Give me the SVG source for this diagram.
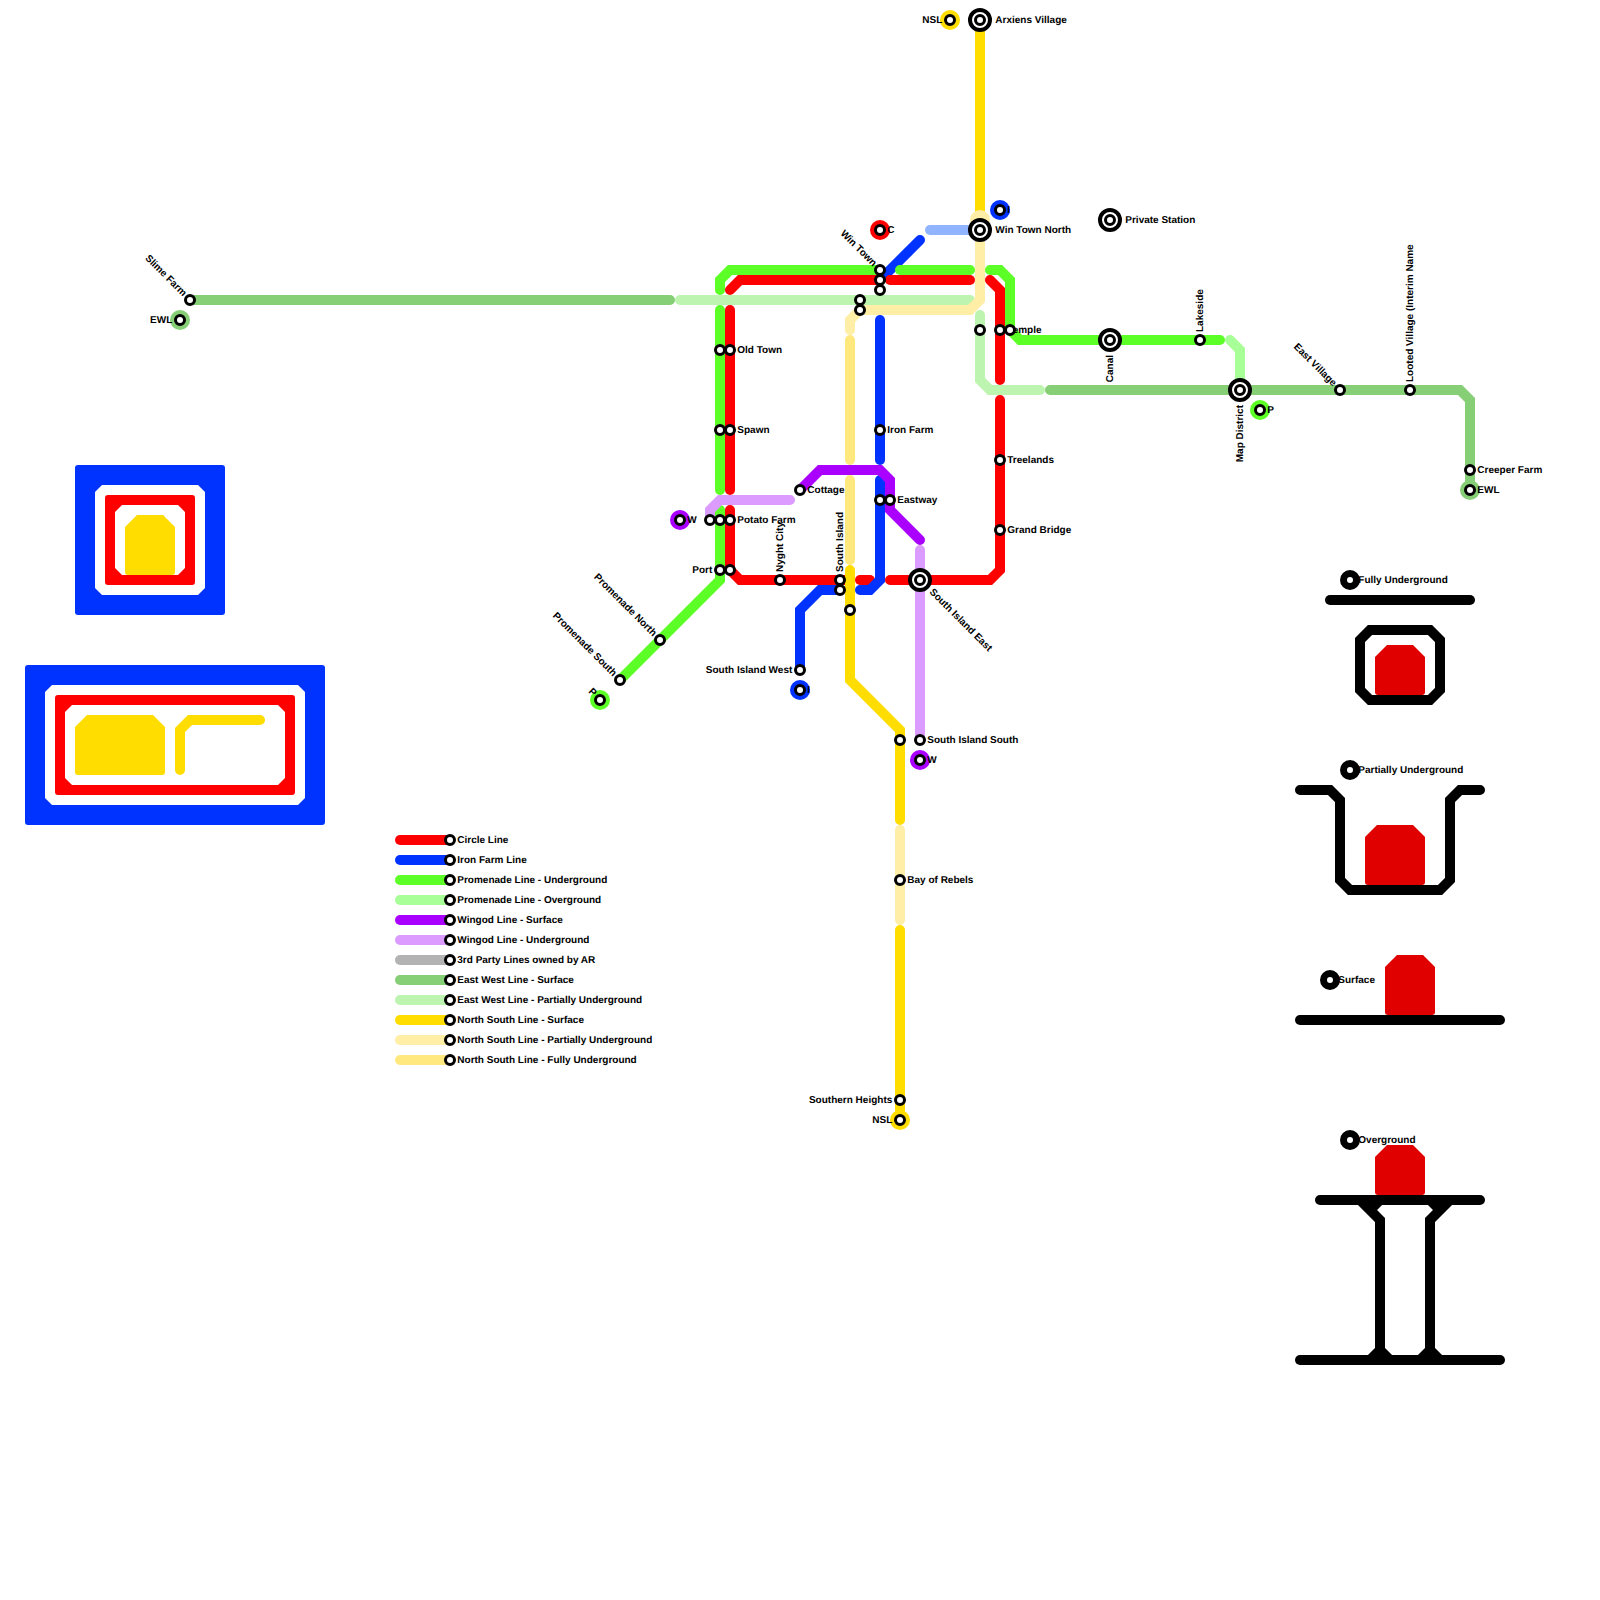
<svg xmlns="http://www.w3.org/2000/svg" width="1600" height="1600" viewBox="0 0 1600 1600">
<style>
text{font-family:"Liberation Sans",Arial,sans-serif;font-size:10px;font-weight:700;fill:#000;text-rendering:geometricPrecision}
.e{text-anchor:end}
.l{fill:none;stroke-width:10;stroke-linecap:round;stroke-linejoin:miter}
.red{stroke:#ff0000}.blue{stroke:#0033ff}.lblue{stroke:#90b4ff}.gr{stroke:#5cff26}.ov{stroke:#a8ff98}.pu{stroke:#aa00ff}.wu{stroke:#dc9cff}
.gy{stroke:#b3b3b3}.ew{stroke:#87cf76}.ep{stroke:#bdf5b0}.ns{stroke:#ffdd00}.np{stroke:#ffeea6}.nf{stroke:#ffe97f}.bk{stroke:#000}
.s{fill:#fff;stroke:#000;stroke-width:3;r:4.5px}
.i{fill:#fff;stroke:#000;stroke-width:4;r:10px}
.k{fill:#fff;stroke:#000;stroke-width:7;r:6.5px}
.b{r:10px}
.ky{fill:#e00000}
</style>
<g id="diagram-blocks">
<rect x="75" y="465" width="150" height="150" rx="3" fill="#0033ff"/>
<path d="M102 485H198L205 492V588L198 595H102L95 588V492Z" fill="#fff"/>
<rect x="105" y="495" width="90" height="90" rx="3" fill="#ff0000"/>
<path d="M122 505H178L185 512V568L178 575H122L115 568V512Z" fill="#fff"/>
<path d="M137 515H163L175 527V572Q175 575 172 575H128Q125 575 125 572V527Z" fill="#ffdd00"/>
<rect x="25" y="665" width="300" height="160" rx="3" fill="#0033ff"/>
<path d="M52 685H298L305 692V798L298 805H52L45 798V692Z" fill="#fff"/>
<rect x="55" y="695" width="240" height="100" rx="3" fill="#ff0000"/>
<path d="M72 705H278L285 712V778L278 785H72L65 778V712Z" fill="#fff"/>
<path d="M87 715H153L165 727V772Q165 775 162 775H78Q75 775 75 772V727Z" fill="#ffdd00"/>
<path class="l ns" d="M180 770V730L190 720H260"/>
</g>
<g id="connectors">
<path class="l ns" d="M980 20V220"/>
<path class="l blue" d="M880 280L920 240"/>
<path class="l lblue" d="M930 230H980"/>
<path class="l red" d="M730 290L740 280H880"/>
<path class="l red" d="M890 280H970"/>
<path class="l red" d="M990 280L1000 290V380"/>
<path class="l red" d="M1000 400V570L990 580H890"/>
<path class="l red" d="M860 580H870"/>
<path class="l red" d="M730 310V490"/>
<path class="l red" d="M730 510V570L740 580H850"/>
<path class="l gr" d="M720 290V280L730 270H880"/>
<path class="l gr" d="M900 270H970"/>
<path class="l gr" d="M990 270H1000L1010 280V330L1020 340H1220"/>
<path class="l gr" d="M720 310V490"/>
<path class="l gr" d="M720 510V580L620 680"/>
<path class="l ov" d="M1230 340L1240 350V390"/>
<path class="l blue" d="M880 320V460"/>
<path class="l blue" d="M880 480V580L870 590H860"/>
<path class="l blue" d="M800 670V610L820 590H840"/>
<path class="l wu" d="M710 520V510L720 500H790"/>
<path class="l wu" d="M920 550V740"/>
<path class="l pu" d="M800 490L820 470H880L890 480V510L920 540"/>
<path class="l ew" d="M190 300H670"/>
<path class="l ep" d="M680 300H970"/>
<path class="l ep" d="M980 315V380L990 390H1040"/>
<path class="l ew" d="M1050 390H1460L1470 400V490"/>
<circle class="b" cx="980" cy="220" fill="#ffeea6"/>
<path class="l np" d="M980 220V300L970 310H860L850 320V330"/>
<path class="l nf" d="M850 340V460"/>
<path class="l nf" d="M850 480V560"/>
<path class="l ns" d="M850 570V680L900 730V820"/>
<path class="l np" d="M900 830V920"/>
<path class="l ns" d="M900 930V1120"/>
</g>
<g id="legend-lines">
<path class="l red" d="M400 840H450"/>
<path class="l blue" d="M400 860H450"/>
<path class="l gr" d="M400 880H450"/>
<path class="l ov" d="M400 900H450"/>
<path class="l pu" d="M400 920H450"/>
<path class="l wu" d="M400 940H450"/>
<path class="l gy" d="M400 960H450"/>
<path class="l ew" d="M400 980H450"/>
<path class="l ep" d="M400 1000H450"/>
<path class="l ns" d="M400 1020H450"/>
<path class="l np" d="M400 1040H450"/>
<path class="l nf" d="M400 1060H450"/>
</g>
<g id="key-shapes">
<path class="l bk" d="M1330 600H1470"/>
<path class="l bk" d="M1370 630H1430L1440 640V690L1430 700H1370L1360 690V640Z"/>
<path class="ky" d="M1387 645H1413L1425 657V692Q1425 695 1422 695H1378Q1375 695 1375 692V657Z"/>
<path class="l bk" d="M1300 790H1330L1340 800V880L1350 890H1440L1450 880V800L1460 790H1480"/>
<path class="ky" d="M1377 825H1413L1425 837V882Q1425 885 1422 885H1368Q1365 885 1365 882V837Z"/>
<path class="l bk" d="M1300 1020H1500"/>
<path class="ky" d="M1397 955H1423L1435 967V1012Q1435 1015 1432 1015H1388Q1385 1015 1385 1012V967Z"/>
<path class="ky" d="M1387 1145H1413L1425 1157V1192Q1425 1195 1422 1195H1378Q1375 1195 1375 1192V1157Z"/>
<path class="l bk" d="M1320 1200H1480"/>
<path class="l bk" d="M1300 1360H1500"/>
<path class="l bk" style="stroke-linecap:butt" d="M1360 1200L1380 1220V1360"/>
<path class="l bk" style="stroke-linecap:butt" d="M1370 1210L1380 1200"/>
<path class="l bk" style="stroke-linecap:butt" d="M1450 1200L1430 1220V1360"/>
<path class="l bk" style="stroke-linecap:butt" d="M1440 1210L1430 1200"/>
<path class="l bk" style="stroke-linecap:butt" d="M1370 1360L1380 1350L1390 1360"/>
<path class="l bk" style="stroke-linecap:butt" d="M1420 1360L1430 1350L1440 1360"/>
</g>
<g id="n-slime-farm"><text class="e" transform="translate(182.8 296.8) rotate(45)">Slime Farm</text><circle class="s" cx="190" cy="300"/></g>
<g id="n-ewl-w"><circle class="b" cx="180" cy="320" fill="#87cf76"/><text class="e" x="172.3" y="322.5">EWL</text><circle class="s" cx="180" cy="320"/></g>
<g id="n-win-town"><text class="e" transform="translate(872.8 266.8) rotate(45)">Win Town</text><circle class="s" cx="880" cy="270"/></g>
<g id="n-win-town-2"><circle class="s" cx="880" cy="280"/></g>
<g id="n-win-town-3"><circle class="s" cx="880" cy="290"/></g>
<g id="n-c"><circle class="b" cx="880" cy="230" fill="#ff0000"/><text x="887.3" y="232.5">C</text><circle class="s" cx="880" cy="230"/></g>
<g id="n-i-north"><circle class="b" cx="1000" cy="210" fill="#0033ff"/><text x="1007.3" y="212.5">I</text><circle class="s" cx="1000" cy="210"/></g>
<g id="n-win-town-north"><circle class="i" cx="980" cy="230"/><circle class="s" cx="980" cy="230"/><text x="995.3" y="232.5">Win Town North</text></g>
<g id="n-nsl-n"><circle class="b" cx="950" cy="20" fill="#ffdd00"/><text class="e" x="942.3" y="22.5">NSL</text><circle class="s" cx="950" cy="20"/></g>
<g id="n-arxiens"><circle class="i" cx="980" cy="20"/><circle class="s" cx="980" cy="20"/><text x="995.3" y="22.5">Arxiens Village</text></g>
<g id="n-private"><circle class="i" cx="1110" cy="220"/><circle class="s" cx="1110" cy="220"/><text x="1125.3" y="222.5">Private Station</text></g>
<g id="n-a1"><circle class="s" cx="860" cy="300"/></g>
<g id="n-a2"><circle class="s" cx="860" cy="310"/></g>
<g id="n-a3"><circle class="s" cx="980" cy="330"/></g>
<g id="n-temple"><text x="1007.3" y="332.5">Temple</text><circle class="s" cx="1000" cy="330"/></g>
<g id="n-temple-2"><circle class="s" cx="1010" cy="330"/></g>
<g id="n-canal"><circle class="i" cx="1110" cy="340"/><circle class="s" cx="1110" cy="340"/><text class="e" transform="translate(1112.5 355) rotate(-90)">Canal</text></g>
<g id="n-lakeside"><text transform="translate(1202.5 332) rotate(-90)">Lakeside</text><circle class="s" cx="1200" cy="340"/></g>
<g id="n-map-district"><circle class="i" cx="1240" cy="390"/><circle class="s" cx="1240" cy="390"/><text class="e" transform="translate(1242.5 405) rotate(-90)">Map District</text></g>
<g id="n-p-e"><circle class="b" cx="1260" cy="410" fill="#5cff26"/><text x="1267.3" y="412.5">P</text><circle class="s" cx="1260" cy="410"/></g>
<g id="n-east-village"><text class="e" transform="translate(1332.8 386.8) rotate(45)">East Village</text><circle class="s" cx="1340" cy="390"/></g>
<g id="n-looted"><text transform="translate(1412.5 382) rotate(-90)">Looted Village (Interim Name</text><circle class="s" cx="1410" cy="390"/></g>
<g id="n-creeper"><text x="1477.3" y="472.5">Creeper Farm</text><circle class="s" cx="1470" cy="470"/></g>
<g id="n-ewl-e"><circle class="b" cx="1470" cy="490" fill="#87cf76"/><text x="1477.3" y="492.5">EWL</text><circle class="s" cx="1470" cy="490"/></g>
<g id="n-old-town"><text x="737.3" y="352.5">Old Town</text><circle class="s" cx="720" cy="350"/><circle class="s" cx="730" cy="350"/></g>
<g id="n-spawn"><text x="737.3" y="432.5">Spawn</text><circle class="s" cx="720" cy="430"/><circle class="s" cx="730" cy="430"/></g>
<g id="n-iron-farm"><text x="887.3" y="432.5">Iron Farm</text><circle class="s" cx="880" cy="430"/></g>
<g id="n-treelands"><text x="1007.3" y="462.5">Treelands</text><circle class="s" cx="1000" cy="460"/></g>
<g id="n-grand-bridge"><text x="1007.3" y="532.5">Grand Bridge</text><circle class="s" cx="1000" cy="530"/></g>
<g id="n-cottage"><text x="807.3" y="492.5">Cottage</text><circle class="s" cx="800" cy="490"/></g>
<g id="n-eastway"><text x="897.3" y="502.5">Eastway</text><circle class="s" cx="880" cy="500"/><circle class="s" cx="890" cy="500"/></g>
<g id="n-w-west"><circle class="b" cx="680" cy="520" fill="#aa00ff"/><text x="687.3" y="522.5">W</text><circle class="s" cx="680" cy="520"/></g>
<g id="n-potato-farm"><text x="737.3" y="522.5">Potato Farm</text><circle class="s" cx="710" cy="520"/><circle class="s" cx="720" cy="520"/><circle class="s" cx="730" cy="520"/></g>
<g id="n-port"><text class="e" x="712.3" y="572.5">Port</text><circle class="s" cx="720" cy="570"/><circle class="s" cx="730" cy="570"/></g>
<g id="n-nyght-city"><text transform="translate(782.5 572) rotate(-90)">Nyght City</text><circle class="s" cx="780" cy="580"/></g>
<g id="n-south-island"><text transform="translate(842.5 572) rotate(-90)">South Island</text><circle class="s" cx="840" cy="580"/><circle class="s" cx="840" cy="590"/></g>
<g id="n-a4"><circle class="s" cx="850" cy="610"/></g>
<g id="n-south-island-east"><circle class="i" cx="920" cy="580"/><circle class="s" cx="920" cy="580"/><text transform="translate(929 592.5) rotate(45)">South Island East</text></g>
<g id="n-south-island-west"><text class="e" x="792.3" y="672.5">South Island West</text><circle class="s" cx="800" cy="670"/></g>
<g id="n-i-south"><circle class="b" cx="800" cy="690" fill="#0033ff"/><text x="807.3" y="692.5">I</text><circle class="s" cx="800" cy="690"/></g>
<g id="n-promenade-north"><text class="e" transform="translate(652.8 636.8) rotate(45)">Promenade North</text><circle class="s" cx="660" cy="640"/></g>
<g id="n-promenade-south"><text class="e" transform="translate(612.8 676.8) rotate(45)">Promenade South</text><circle class="s" cx="620" cy="680"/></g>
<g id="n-p-w"><circle class="b" cx="600" cy="700" fill="#5cff26"/><text class="e" transform="translate(592.8 696.8) rotate(45)">P</text><circle class="s" cx="600" cy="700"/></g>
<g id="n-a5"><circle class="s" cx="900" cy="740"/></g>
<g id="n-south-island-south"><text x="927.3" y="742.5">South Island South</text><circle class="s" cx="920" cy="740"/></g>
<g id="n-w-south"><circle class="b" cx="920" cy="760" fill="#aa00ff"/><text x="927.3" y="762.5">W</text><circle class="s" cx="920" cy="760"/></g>
<g id="n-bay-of-rebels"><text x="907.3" y="882.5">Bay of Rebels</text><circle class="s" cx="900" cy="880"/></g>
<g id="n-southern-heights"><text class="e" x="892.3" y="1102.5">Southern Heights</text><circle class="s" cx="900" cy="1100"/></g>
<g id="n-nsl-s"><circle class="b" cx="900" cy="1120" fill="#ffdd00"/><text class="e" x="892.3" y="1122.5">NSL</text><circle class="s" cx="900" cy="1120"/></g>
<g id="legend-items">
<text x="457.3" y="842.5">Circle Line</text><circle class="s" cx="450" cy="840"/>
<text x="457.3" y="862.5">Iron Farm Line</text><circle class="s" cx="450" cy="860"/>
<text x="457.3" y="882.5">Promenade Line - Underground</text><circle class="s" cx="450" cy="880"/>
<text x="457.3" y="902.5">Promenade Line - Overground</text><circle class="s" cx="450" cy="900"/>
<text x="457.3" y="922.5">Wingod Line - Surface</text><circle class="s" cx="450" cy="920"/>
<text x="457.3" y="942.5">Wingod Line - Underground</text><circle class="s" cx="450" cy="940"/>
<text x="457.3" y="962.5">3rd Party Lines owned by AR</text><circle class="s" cx="450" cy="960"/>
<text x="457.3" y="982.5">East West Line - Surface</text><circle class="s" cx="450" cy="980"/>
<text x="457.3" y="1002.5">East West Line - Partially Underground</text><circle class="s" cx="450" cy="1000"/>
<text x="457.3" y="1022.5">North South Line - Surface</text><circle class="s" cx="450" cy="1020"/>
<text x="457.3" y="1042.5">North South Line - Partially Underground</text><circle class="s" cx="450" cy="1040"/>
<text x="457.3" y="1062.5">North South Line - Fully Underground</text><circle class="s" cx="450" cy="1060"/>
</g>
<g id="key-fully"><text x="1358.3" y="582.5">Fully Underground</text><circle class="k" cx="1350" cy="580"/></g>
<g id="key-partially"><text x="1358.3" y="772.5">Partially Underground</text><circle class="k" cx="1350" cy="770"/></g>
<g id="key-surface"><text x="1338.3" y="982.5">Surface</text><circle class="k" cx="1330" cy="980"/></g>
<g id="key-overground"><text x="1358.3" y="1142.5">Overground</text><circle class="k" cx="1350" cy="1140"/></g>
</svg>
